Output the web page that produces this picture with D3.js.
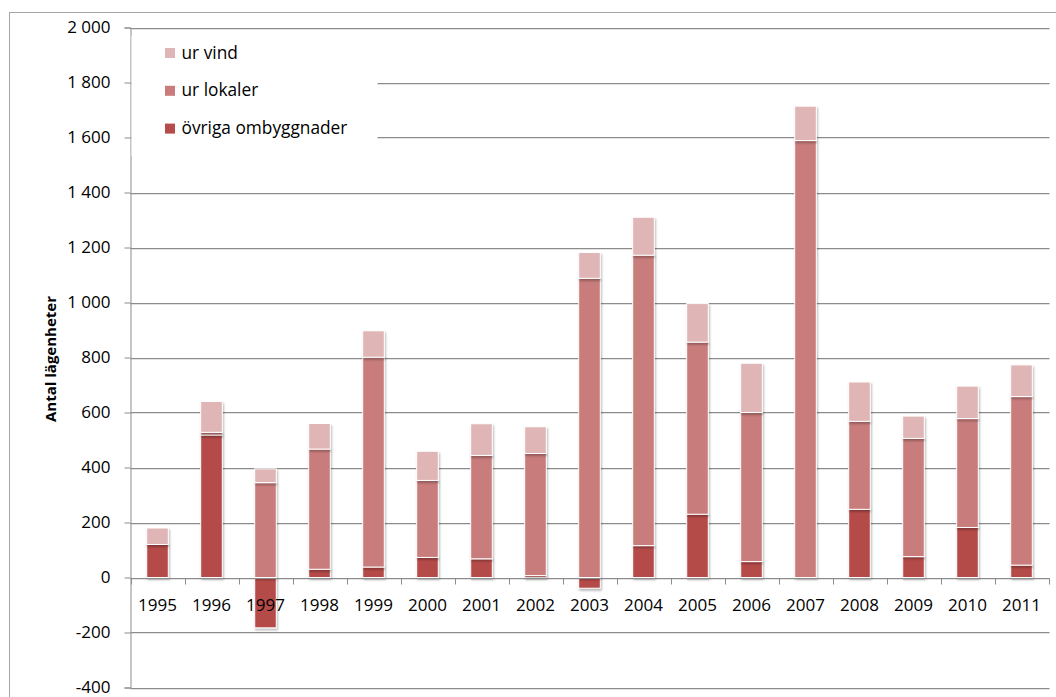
<!DOCTYPE html>
<html>
<head>
<meta charset="utf-8">
<script src="https://cdn.jsdelivr.net/npm/d3@7"></script>
<style>
  body { margin: 0; background: #fff; }
  svg text { font-family: "Open Sans", sans-serif; fill: #000; }
</style>
</head>
<body>
<svg id="chart" width="1056" height="697"></svg>
<script>
// data
const years = ["1995","1996","1997","1998","1999","2000","2001","2002","2003","2004","2005","2006","2007","2008","2009","2010","2011"];
const ovriga = [120, 518, -183, 30, 38, 73, 68, 7, -39, 116, 230, 58, 0, 248, 76, 182, 45];
const lokaler = [0, 10, 345, 437, 763, 280, 376, 444, 1088, 1056, 626, 542, 1589, 320, 430, 396, 613];
const vind = [60, 112, 50, 93, 96, 106, 115, 97, 94, 138, 140, 179, 125, 143, 81, 118, 115];
const yTicks = [-400, -200, 0, 200, 400, 600, 800, 1000, 1200, 1400, 1600, 1800, 2000];

const seriesKeys = ["ovriga", "lokaler", "vind"];
const colors = { vind: "#dfb5b5", lokaler: "#c97c7b", ovriga: "#b54b4a" };
const legendItems = [
  { key: "vind", label: "ur vind" },
  { key: "lokaler", label: "ur lokaler" },
  { key: "ovriga", label: "övriga ombyggnader" }
];

const rows = years.map((y, i) => ({ year: y, ovriga: ovriga[i], lokaler: lokaler[i], vind: vind[i] }));

const svg = d3.select("#chart");
const plotLeft = 130.5, plotRight = 1048.5, plotTop = 27.5, plotBottom = 687.5;

// drop shadow for the bars
const defs = svg.append("defs");
defs.append("filter").attr("id", "shadow")
  .attr("x", "-20%").attr("y", "-5%").attr("width", "150%").attr("height", "120%")
  .append("feDropShadow")
  .attr("dx", 1).attr("dy", 2).attr("stdDeviation", 1.2)
  .attr("flood-color", "#000").attr("flood-opacity", 0.28);

// outer border
svg.append("rect")
  .attr("x", 9.5).attr("y", 12.5).attr("width", 1060).attr("height", 700)
  .attr("fill", "none").attr("stroke", "#a6a6a6");

const x = d3.scaleBand()
  .domain(years)
  .range([plotLeft, plotRight])
  .paddingInner(0.6)
  .paddingOuter(0.3);

const y = d3.scaleLinear()
  .domain([-400, 2000])
  .range([plotBottom, plotTop]);

const fmt = d => {
  const s = String(Math.abs(d));
  const t = s.length > 3 ? s.slice(0, s.length - 3) + " " + s.slice(-3) : s;
  return (d < 0 ? "-" : "") + t;
};

// gridlines (with a faint shadow line)
const grid = svg.append("g");
grid.selectAll("line.sh")
  .data(yTicks)
  .enter().append("line")
  .attr("x1", plotLeft).attr("x2", plotRight + 1)
  .attr("y1", d => Math.round(y(d)) + 1.5).attr("y2", d => Math.round(y(d)) + 1.5)
  .attr("stroke", "#e2e2e2");
grid.selectAll("line.g")
  .data(yTicks)
  .enter().append("line")
  .attr("x1", plotLeft).attr("x2", plotRight + 1)
  .attr("y1", d => Math.round(y(d)) + 0.5).attr("y2", d => Math.round(y(d)) + 0.5)
  .attr("stroke", "#8c8c8c");

// y axis
const yAxis = svg.append("g")
  .attr("transform", "translate(" + plotLeft + ",0)")
  .call(d3.axisLeft(y).tickValues(yTicks).tickSize(6).tickPadding(14).tickFormat(fmt));
yAxis.select(".domain").attr("stroke", "#8c8c8c");
yAxis.selectAll(".tick line").attr("stroke", "#8c8c8c");
yAxis.selectAll(".tick text")
  .attr("font-size", 17)
  .attr("font-family", "Open Sans, sans-serif");

// y axis title
svg.append("text")
  .attr("transform", "translate(56,359) rotate(-90)")
  .attr("text-anchor", "middle")
  .attr("font-size", 15)
  .attr("font-weight", "bold")
  .text("Antal lägenheter");

// stacked bars
const stack = d3.stack().keys(seriesKeys).offset(d3.stackOffsetDiverging);
const stacked = stack(rows);

svg.append("g").selectAll("g")
  .data(stacked)
  .enter().append("g")
  .attr("fill", d => colors[d.key])
  .attr("filter", "url(#shadow)")
  .selectAll("rect")
  .data(d => d)
  .enter().append("rect")
  .attr("x", d => x(d.data.year))
  .attr("y", d => y(Math.max(d[0], d[1])))
  .attr("width", x.bandwidth())
  .attr("height", d => Math.abs(y(d[0]) - y(d[1])))
  .attr("stroke", "#fff")
  .attr("stroke-width", 1);

// x axis at zero
const zeroY = Math.round(y(0)) + 0.5;
const step = x.step();
const xAxis = svg.append("g");
xAxis.append("line")
  .attr("x1", plotLeft).attr("x2", plotRight + 1)
  .attr("y1", zeroY).attr("y2", zeroY)
  .attr("stroke", "#8c8c8c");
const bounds = years.map(d => x(d) - step * x.paddingInner() / 2).concat([plotRight]);
xAxis.selectAll("line.tick")
  .data(bounds)
  .enter().append("line")
  .attr("x1", d => Math.round(d) + 0.5).attr("x2", d => Math.round(d) + 0.5)
  .attr("y1", zeroY).attr("y2", zeroY + 6)
  .attr("stroke", "#8c8c8c");
xAxis.selectAll("text")
  .data(years)
  .enter().append("text")
  .attr("x", d => x(d) + x.bandwidth() / 2)
  .attr("y", 610.5)
  .attr("text-anchor", "middle")
  .attr("font-size", 17)
  .text(d => d);

// legend
const legend = svg.append("g");
legend.append("rect")
  .attr("x", plotLeft + 1).attr("y", 36).attr("width", 246).attr("height", 120)
  .attr("fill", "#fff");
const li = legend.selectAll("g.item")
  .data(legendItems)
  .enter().append("g")
  .attr("transform", (d, i) => "translate(165," + (48 + i * 37.8) + ")");
li.append("rect")
  .attr("width", 10).attr("height", 10)
  .attr("fill", d => colors[d.key]);
li.append("text")
  .attr("x", 16.5).attr("y", 10.5)
  .attr("font-size", 17.3)
  .text(d => d.label);
</script>
</body>
</html>
